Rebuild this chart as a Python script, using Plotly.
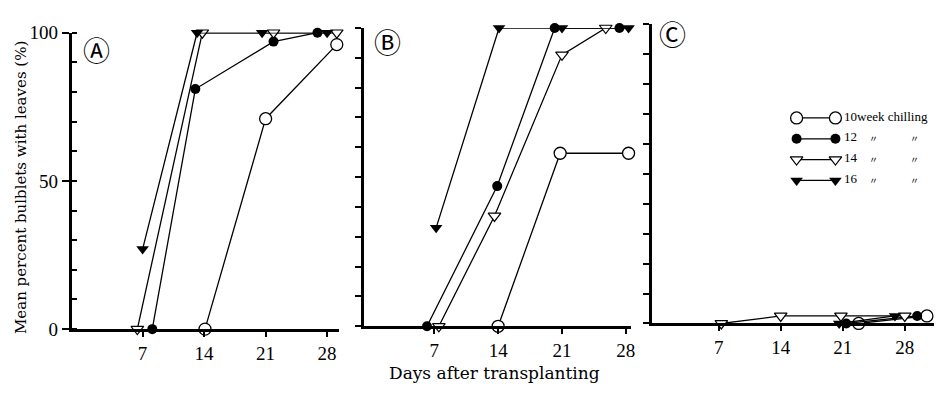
import plotly.graph_objects as go

# ---------------- data (days after transplanting, % bulblets with leaves) ----
series_names = ["10week chilling", "12", "14", "16"]

A_w10_x = [14.1, 21.0, 29.1]
A_w10_y = [0, 71, 96]
A_w12_x = [8.1, 13.0, 21.9, 26.9]
A_w12_y = [0, 81, 97, 100]
A_w14_x = [6.4, 13.8, 21.9, 29.1]
A_w14_y = [0, 100, 100, 100]
A_w16_x = [7.0, 13.2, 20.6, 28.0]
A_w16_y = [27, 100, 100, 100]

B_w10_x = [14.0, 20.8, 28.3]
B_w10_y = [0, 58, 58]
B_w12_x = [6.2, 13.9, 20.2, 27.3]
B_w12_y = [0, 47, 100, 100]
B_w14_x = [7.5, 13.6, 21.0, 25.8]
B_w14_y = [0, 37, 91, 100]
B_w16_x = [7.2, 14.1, 21.0, 28.3]
B_w16_y = [33, 100, 100, 100]

C_w10_x = [22.8, 30.5]
C_w10_y = [0, 2.5]
C_w12_x = [21.4, 29.4]
C_w12_y = [0, 2.5]
C_w14_x = [7.3, 14.0, 20.8, 28.0]
C_w14_y = [0, 2.5, 2.5, 2.5]
C_w16_x = [20.6, 26.9]
C_w16_y = [0, 2.5]

x_tick_vals = [7, 14, 21, 28]
y_tick_vals = [0, 50, 100]
panel_labels = ["Ⓐ", "Ⓑ", "Ⓒ"]

# ---------------- styles ----------------
W, H = 938, 396
SERIF = "Liberation Serif"
styles = [
    dict(symbol="circle", size=12, color="white", line=dict(width=1.3, color="black")),
    dict(symbol="circle", size=10, color="black", line=dict(width=0)),
    dict(symbol="triangle-down", size=11, color="white", line=dict(width=1.2, color="black")),
    dict(symbol="triangle-down", size=11, color="black", line=dict(width=0)),
]

fig = go.Figure()

panels = [
    ("x", "y", [(A_w10_x, A_w10_y), (A_w12_x, A_w12_y), (A_w14_x, A_w14_y), (A_w16_x, A_w16_y)]),
    ("x2", "y2", [(B_w10_x, B_w10_y), (B_w12_x, B_w12_y), (B_w14_x, B_w14_y), (B_w16_x, B_w16_y)]),
    ("x3", "y3", [(C_w10_x, C_w10_y), (C_w12_x, C_w12_y), (C_w14_x, C_w14_y), (C_w16_x, C_w16_y)]),
]
for xa, ya, series in panels:
    for i, (xs, ys) in enumerate(series):
        fig.add_trace(go.Scatter(
            x=xs, y=ys, xaxis=xa, yaxis=ya, mode="lines+markers",
            line=dict(color="black", width=1.3), marker=styles[i],
            cliponaxis=False, showlegend=False, name=series_names[i]))

# ---------------- manual legend (overlay axis in pixel units) ----------------
leg_x0, leg_x1, leg_text_x = 800, 839, 846
leg_rows = [114, 136, 158, 180]
for i, ry in enumerate(leg_rows):
    fig.add_trace(go.Scatter(
        x=[leg_x0, leg_x1], y=[ry, ry], xaxis="x4", yaxis="y4", mode="lines+markers",
        line=dict(color="black", width=1.3), marker=styles[i],
        cliponaxis=False, showlegend=False, hoverinfo="skip"))

def xdom(a, b):
    return [a / W, b / W]

def ydom(bottom_px, top_px):
    return [(H - bottom_px) / H, (H - top_px) / H]

axis_common = dict(showline=True, linewidth=3, linecolor="black", showgrid=False,
                   zeroline=False, ticks="outside", tickcolor="black", tickwidth=1.5,
                   tickfont=dict(family=SERIF, size=19, color="black"))

xa_common = dict(axis_common, tickvals=x_tick_vals, ticklen=5)

fig.update_layout(
    width=W, height=H, margin=dict(l=0, r=0, t=0, b=0),
    paper_bgcolor="white", plot_bgcolor="rgba(0,0,0,0)",
    xaxis=dict(xa_common, domain=xdom(72, 340), range=[-1.07, 29.3], anchor="y"),
    yaxis=dict(axis_common, domain=ydom(337, 24), range=[0, 100], anchor="x",
               tickvals=y_tick_vals, ticklen=7,
               minor=dict(ticks="inside", dtick=10, ticklen=5, tickcolor="black", tickwidth=1.5)),
    xaxis2=dict(xa_common, domain=xdom(366, 634), range=[-0.66, 28.6], anchor="y2"),
    yaxis2=dict(axis_common, domain=ydom(334, 19), range=[0, 100], anchor="x2",
                dtick=10, ticklen=6, showticklabels=False),
    xaxis3=dict(xa_common, domain=xdom(655, 938), range=[-0.5, 31.3], anchor="y3"),
    yaxis3=dict(axis_common, domain=ydom(331, 15), range=[0, 100], anchor="x3",
                dtick=10, ticklen=6, showticklabels=False),
    xaxis4=dict(domain=[0, 1], range=[0, W], visible=False, anchor="y4"),
    yaxis4=dict(domain=[0, 1], range=[H, 0], visible=False, anchor="x4"),
)

ann = []
# panel labels
for lab, (px, py) in zip(panel_labels, [(97, 42), (389, 33), (675, 25)]):
    ann.append(dict(text=lab, x=px / W, y=(H - py) / H, xref="paper", yref="paper",
                    showarrow=False, xanchor="center", yanchor="middle",
                    font=dict(family="Noto Sans CJK JP", size=27, color="black")))
# axis titles
ann.append(dict(text="Mean percent bulblets with leaves (%)", x=21 / W, y=(H - 187) / H,
                xref="paper", yref="paper", showarrow=False, textangle=-90,
                xanchor="center", yanchor="middle",
                font=dict(family="DejaVu Serif", size=15, color="black")))
ann.append(dict(text="Days after transplanting", x=497 / W, y=(H - 383) / H,
                xref="paper", yref="paper", showarrow=False,
                xanchor="center", yanchor="middle",
                font=dict(family="DejaVu Serif", size=17, color="black")))
# legend texts
for i, ry in enumerate(leg_rows):
    ann.append(dict(text=series_names[i], x=leg_text_x / W, y=(H - ry + 2) / H,
                    xref="paper", yref="paper", showarrow=False,
                    xanchor="left", yanchor="middle",
                    font=dict(family=SERIF, size=13, color="black")))
    if i > 0:
        for dx in (877, 918):
            ann.append(dict(text="〃", x=dx / W, y=(H - ry) / H,
                            xref="paper", yref="paper", showarrow=False,
                            xanchor="center", yanchor="middle",
                            font=dict(family="Noto Sans CJK JP", size=9, color="black")))
fig.update_layout(annotations=ann)

fig.write_html("out.html", config={"displayModeBar": False},
               post_script="document.body.style.margin='0px';document.body.style.overflow='hidden';")
